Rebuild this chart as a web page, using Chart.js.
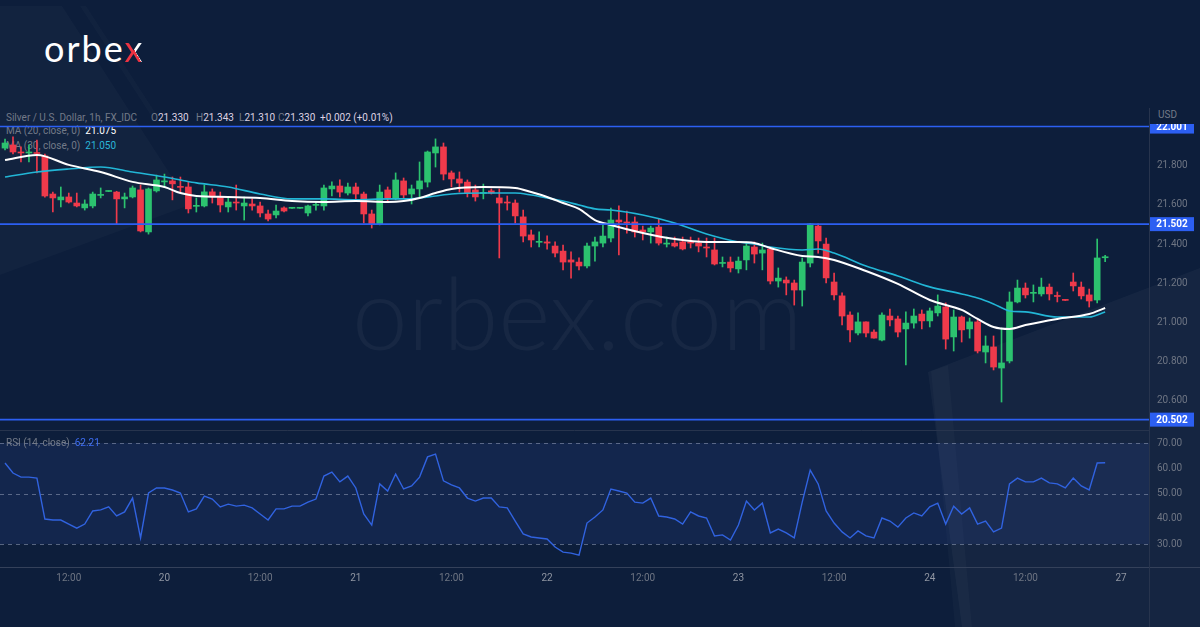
<!DOCTYPE html>
<html><head><meta charset="utf-8">
<script src="https://cdn.jsdelivr.net/npm/chart.js@4.4.1/dist/chart.umd.min.js"></script>
<style>
html,body{margin:0;padding:0;background:#0d1e3b;width:1200px;height:627px;overflow:hidden;font-family:Roboto,'Open Sans',sans-serif;}
.abs{position:absolute;white-space:pre;}
#bg{position:absolute;left:0;top:0;}
.g{color:#737a88;}
.v{color:#ddd2e2;}
canvas{position:absolute;left:0;}
</style></head><body>
<svg id="bg" width="1200" height="627">
  <polygon points="0,6 62,6 190,205 0,275" fill="rgba(255,255,255,0.025)"/>
  <polygon points="80,6 86,6 160,120 154,120" fill="rgba(255,255,255,0.02)"/>
  <polygon points="928,372 1200,268 1200,627 962,627" fill="rgba(255,255,255,0.035)"/>
  <polygon points="931,371 948,365 972,627 955,627" fill="rgba(255,255,255,0.025)"/>
</svg>
<div class="abs" style="left:352px;top:261px;font-family:Lato,sans-serif;font-weight:300;font-size:100px;line-height:100px;color:rgba(255,255,255,0.045);">orbex.com</div>
<div class="abs" style="left:44px;top:30px;font-family:Lato,sans-serif;font-size:36px;line-height:36px;letter-spacing:2px;color:#fff;">orbe<span style="background:linear-gradient(60deg,#ee3342 0 48%,#fff 48%);-webkit-background-clip:text;background-clip:text;color:transparent;">x</span></div>

<div class="abs g" style="left:6px;top:112px;font-size:10px;line-height:12px;">Silver / U.S. Dollar, 1h, FX_IDC</div>
<div class="abs" style="left:151px;top:112px;font-size:10px;line-height:12px;"><span class="g">O</span><span class="v">21.330</span></div>
<div class="abs" style="left:196px;top:112px;font-size:10px;line-height:12px;"><span class="g">H</span><span class="v">21.343</span></div>
<div class="abs" style="left:239px;top:112px;font-size:10px;line-height:12px;"><span class="g">L</span><span class="v">21.310</span></div>
<div class="abs" style="left:278px;top:112px;font-size:10px;line-height:12px;"><span class="g">C</span><span class="v">21.330</span></div>
<div class="abs v" style="left:320px;top:112px;font-size:10px;line-height:12px;">+0.002 (+0.01%)</div>
<div class="abs" style="left:6px;top:125px;font-size:10px;line-height:12px;"><span class="g">MA (20, close, 0)</span>  <span style="color:#ffffff;">21.075</span></div>
<div class="abs" style="left:6px;top:140px;font-size:10px;line-height:12px;"><span class="g">MA (30, close, 0)</span>  <span style="color:#2bb6d8;">21.050</span></div>
<div class="abs g" style="left:1158px;top:109px;font-size:10px;line-height:12px;">USD</div>

<canvas id="price" width="1200" height="350" style="top:94px"></canvas>
<canvas id="rsi" width="1200" height="211" style="top:416px"></canvas>
<div class="abs" style="left:6px;top:437px;font-size:10px;line-height:12px;"><span class="g">RSI (14, close)</span>  <span style="color:#3d6df2;">62.21</span></div>

<script>
// ---------- data (hourly bars, Silver / USD) ----------
const openP  = [21.891,21.907,21.871,21.866,21.868,21.851,21.656,21.626,21.641,21.610,21.585,21.595,21.649,21.669,21.666,21.631,21.641,21.677,21.462,21.672,
21.718,21.723,21.694,21.692,21.593,21.595,21.667,21.641,21.590,21.615,21.595,21.605,21.595,21.554,21.549,21.585,21.583,21.583,21.559,21.598,
21.595,21.682,21.697,21.661,21.692,21.656,21.554,21.503,21.677,21.636,21.723,21.656,21.682,21.717,21.866,21.897,21.764,21.733,21.717,21.677,
21.659,21.672,21.636,21.615,21.610,21.539,21.447,21.409,21.411,21.390,21.364,21.319,21.308,21.288,21.390,21.405,21.431,21.523,21.513,21.513,
21.472,21.462,21.487,21.400,21.405,21.411,21.411,21.405,21.385,21.370,21.301,21.308,21.273,21.319,21.385,21.354,21.375,21.211,21.216,21.201,
21.165,21.303,21.492,21.400,21.206,21.135,21.037,20.945,21.002,20.950,20.909,21.032,21.017,20.966,20.996,21.042,21.007,21.048,21.078,20.925,
21.027,20.966,21.002,20.848,20.874,20.766,20.802,21.104,21.175,21.148,21.145,21.180,21.136,21.115,21.206,21.180,21.140,21.114,21.330];
const highP  = [21.937,21.948,21.897,21.907,21.932,21.860,21.666,21.692,21.661,21.661,21.626,21.666,21.687,21.672,21.670,21.661,21.697,21.702,21.687,21.753,
21.758,21.743,21.743,21.718,21.636,21.702,21.682,21.666,21.641,21.702,21.641,21.631,21.615,21.574,21.600,21.590,21.586,21.586,21.600,21.615,
21.702,21.718,21.728,21.712,21.712,21.666,21.574,21.702,21.692,21.764,21.738,21.702,21.820,21.876,21.938,21.917,21.774,21.769,21.728,21.702,
21.707,21.682,21.682,21.646,21.626,21.574,21.472,21.462,21.442,21.411,21.395,21.360,21.329,21.405,21.436,21.508,21.584,21.595,21.569,21.539,
21.492,21.492,21.528,21.436,21.436,21.436,21.436,21.431,21.431,21.431,21.334,21.334,21.334,21.411,21.411,21.405,21.385,21.278,21.232,21.216,
21.329,21.505,21.503,21.431,21.252,21.150,21.053,21.048,21.002,20.961,21.048,21.068,21.032,21.053,21.068,21.063,21.073,21.140,21.099,21.063,
21.032,21.022,21.012,20.930,20.930,20.971,21.155,21.216,21.201,21.191,21.226,21.196,21.155,21.116,21.252,21.206,21.170,21.426,21.343];
const lowP   = [21.881,21.861,21.820,21.820,21.764,21.640,21.564,21.590,21.610,21.590,21.574,21.585,21.636,21.668,21.503,21.585,21.636,21.462,21.451,21.666,
21.692,21.626,21.666,21.559,21.564,21.590,21.610,21.564,21.564,21.574,21.523,21.574,21.539,21.518,21.534,21.564,21.582,21.582,21.544,21.574,
21.574,21.646,21.641,21.651,21.626,21.508,21.482,21.498,21.615,21.626,21.636,21.605,21.641,21.692,21.794,21.728,21.692,21.666,21.641,21.620,
21.631,21.656,21.329,21.574,21.508,21.411,21.385,21.385,21.374,21.334,21.268,21.226,21.268,21.278,21.313,21.385,21.411,21.344,21.456,21.436,
21.421,21.405,21.395,21.385,21.385,21.370,21.380,21.360,21.334,21.293,21.283,21.257,21.252,21.268,21.303,21.268,21.196,21.180,21.140,21.088,
21.083,21.283,21.354,21.201,21.114,20.986,20.899,20.935,20.925,20.919,20.904,20.981,20.925,20.782,20.970,20.966,20.976,21.032,20.863,20.853,
20.899,20.919,20.843,20.792,20.756,20.592,20.792,21.099,21.124,21.104,21.134,21.114,21.104,21.111,21.160,21.119,21.078,21.099,21.310];
const closeP = [21.917,21.871,21.866,21.871,21.863,21.646,21.636,21.641,21.615,21.595,21.605,21.656,21.653,21.671,21.631,21.641,21.687,21.467,21.682,21.728,
21.723,21.708,21.690,21.580,21.597,21.667,21.646,21.600,21.615,21.610,21.610,21.595,21.559,21.528,21.569,21.569,21.585,21.585,21.595,21.600,
21.687,21.697,21.666,21.692,21.656,21.554,21.503,21.666,21.636,21.728,21.651,21.682,21.723,21.871,21.897,21.758,21.733,21.712,21.661,21.641,
21.662,21.661,21.610,21.610,21.544,21.441,21.421,21.411,21.405,21.354,21.308,21.308,21.288,21.390,21.411,21.441,21.523,21.513,21.508,21.462,
21.462,21.482,21.405,21.405,21.390,21.375,21.405,21.390,21.380,21.298,21.304,21.278,21.313,21.390,21.349,21.370,21.211,21.226,21.201,21.165,
21.308,21.503,21.416,21.227,21.140,21.032,20.961,21.002,20.945,20.919,21.037,21.012,20.950,20.996,21.032,21.007,21.058,21.083,20.914,21.027,
20.961,21.002,20.853,20.879,20.771,20.792,21.104,21.175,21.140,21.152,21.180,21.145,21.132,21.112,21.186,21.135,21.109,21.329,21.330];

// moving averages, read at these bar indices
const maIdx = [0,4,8,12,16,20,22,24,28,32,36,40,44,48,50,52,54,56,60,64,66,68,70,72,74,76,80,84,88,92,94,96,100,102,104,108,112,116,120,122,124,126,128,132,136,138];
const ma20 = [21.830,21.856,21.805,21.769,21.718,21.692,21.661,21.646,21.641,21.636,21.620,21.615,21.620,21.615,21.620,21.636,21.661,21.682,21.692,21.687,
21.666,21.641,21.610,21.580,21.523,21.498,21.457,21.426,21.411,21.411,21.406,21.380,21.339,21.334,21.319,21.262,21.196,21.114,21.063,21.017,
20.976,20.966,20.986,21.017,21.042,21.073];
const ma30 = [21.743,21.769,21.784,21.794,21.769,21.743,21.728,21.713,21.692,21.656,21.631,21.631,21.626,21.631,21.631,21.636,21.646,21.656,21.661,21.661,
21.651,21.636,21.620,21.600,21.580,21.574,21.549,21.508,21.452,21.411,21.400,21.385,21.370,21.375,21.354,21.288,21.237,21.181,21.145,21.124,
21.094,21.058,21.053,21.027,21.027,21.053];

// RSI(14) per bar
const rsi = [62.1,58.1,56.5,56.5,56.1,39.9,39.5,39.5,37.9,36.3,37.9,43.1,43.5,44.7,41.1,42.7,48.2,32.4,50.2,52.2,
52.2,51.4,50.2,42.7,43.9,49.0,47.8,44.7,45.8,45.0,45.4,44.3,41.9,39.5,43.9,43.9,45.0,45.0,46.6,47.8,
56.9,58.5,54.6,56.9,52.2,41.9,37.5,53.8,51.0,57.7,51.8,53.0,56.5,64.5,65.6,55.0,53.4,52.2,48.2,47.0,
48.2,48.2,44.7,44.3,39.1,34.0,32.8,32.4,32.0,28.8,26.8,26.4,25.6,38.3,40.7,43.5,51.8,51.0,50.2,46.6,
46.2,48.2,41.1,40.7,39.9,37.9,42.7,41.1,40.3,33.2,33.6,31.6,37.5,47.0,43.5,46.2,34.4,35.9,34.4,32.4,
46.6,59.3,53.8,43.1,38.3,34.8,32.4,35.2,33.2,32.4,40.3,39.1,36.7,40.3,42.3,41.1,44.7,46.2,37.9,45.0,
41.9,44.3,37.9,39.1,34.8,36.3,53.8,56.1,54.6,54.6,56.1,54.2,53.8,52.2,56.1,53.0,51.4,62.1,62.2];

// horizontal levels drawn on the price pane
const levels = [22.001, 21.502, 20.502];
const levelLabels = ['22.001', '21.502', '20.502'];

// axis ticks
const timeTickIdx = [8,20,32,44,56,68,80,92,104,116,128,140];
const timeTickLabels = ['12:00','20','12:00','21','12:00','22','12:00','23','12:00','24','12:00','27'];
const priceTicks = [20.6,20.8,21.0,21.2,21.4,21.6,21.8];
const rsiTicks = [30,40,50,60,70];
const rsiGuides = [70,50,30];

// ---------- chart setup ----------
Chart.defaults.font.family = 'Roboto, sans-serif';
Chart.defaults.font.size = 10;
const GREEN = '#2cc26f', RED = '#ef3a4b';
const AX = '#6e7583';
const X_MIN = -0.63, X_MAX = 143.5;
const PRICE_TOP = 108, RSI_TOP = 430;

const barIdx = openP.map((_, i) => i);
const cols = barIdx.map(i => closeP[i] >= openP[i] ? GREEN : RED);

const levelsPlugin = {
  id: 'levels',
  afterDatasetsDraw(chart) {
    const {ctx, chartArea, scales: {y}} = chart;
    ctx.save();
    ctx.strokeStyle = '#2c5ff2';
    ctx.lineWidth = 1.6;
    levels.forEach(v => {
      const py = y.getPixelForValue(v);
      ctx.beginPath(); ctx.moveTo(chartArea.left, py); ctx.lineTo(chartArea.right, py); ctx.stroke();
    });
    ctx.restore();
  },
  afterDraw(chart) {
    const {ctx, chartArea, scales: {y}} = chart;
    ctx.save();
    ctx.strokeStyle = '#27344d'; ctx.lineWidth = 1;
    ctx.beginPath(); ctx.moveTo(chartArea.right + 0.5, chartArea.top); ctx.lineTo(chartArea.right + 0.5, chart.height); ctx.stroke();
    ctx.beginPath(); ctx.rect(chartArea.right + 1, chartArea.top + 16, 60, chart.height); ctx.clip();
    levels.forEach((v, i) => {
      const py = y.getPixelForValue(v);
      ctx.fillStyle = '#2c5ff2';
      ctx.fillRect(chartArea.right + 1, py - 7, 44, 14);
      ctx.fillStyle = '#ffffff';
      ctx.font = 'bold 10px Roboto, sans-serif';
      ctx.textAlign = 'center'; ctx.textBaseline = 'middle';
      ctx.fillText(levelLabels[i], chartArea.right + 23, py + 0.5);
    });
    ctx.restore();
  }
};

const priceCanvas = document.getElementById('price');
const priceChart = new Chart(priceCanvas, {
  type: 'bar',
  data: {
    datasets: [
      { type: 'line', label: 'MA20', data: maIdx.map((k, j) => ({x: k, y: ma20[j]})),
        borderColor: '#ffffff', borderWidth: 2, pointRadius: 0, cubicInterpolationMode: 'monotone', order: 0 },
      { type: 'line', label: 'MA30', data: maIdx.map((k, j) => ({x: k, y: ma30[j]})),
        borderColor: '#22b6d6', borderWidth: 1.6, pointRadius: 0, cubicInterpolationMode: 'monotone', order: 1 },
      { label: 'body', data: barIdx.map(i => ({x: i, y: [openP[i], closeP[i]]})),
        backgroundColor: cols, barThickness: 6, minBarLength: 1, grouped: false, borderWidth: 0, order: 2 },
      { label: 'wick', data: barIdx.map(i => ({x: i, y: [lowP[i], highP[i]]})),
        backgroundColor: cols, barThickness: 1, grouped: false, borderWidth: 0, order: 3 }
    ]
  },
  options: {
    responsive: false, animation: false, events: [], devicePixelRatio: 1,
    layout: { autoPadding: false, padding: 0 },
    plugins: { legend: { display: false }, tooltip: { enabled: false } },
    scales: {
      x: { type: 'linear', min: X_MIN, max: X_MAX, offset: false, display: false },
      y: { position: 'right', min: 20.449, max: 22.096,
        grid: { display: false, drawTicks: false }, border: { display: false },
        afterFit: s => { s.width = 51; },
        afterBuildTicks: s => { s.ticks = priceTicks.map(v => ({value: v})); },
        ticks: { color: AX, padding: 8, callback: v => Number(v).toFixed(3) } }
    }
  },
  plugins: [levelsPlugin]
});
priceCanvas.style.top = (PRICE_TOP - priceChart.chartArea.top) + 'px';

const rsiPlugin = {
  id: 'rsiBand',
  beforeDatasetsDraw(chart) {
    const {ctx, chartArea, scales: {y}} = chart;
    ctx.save();
    const t = y.getPixelForValue(70), b = y.getPixelForValue(30);
    ctx.fillStyle = 'rgba(60,90,200,0.13)';
    ctx.fillRect(chartArea.left, t, chartArea.right - chartArea.left, b - t);
    ctx.strokeStyle = 'rgba(150,160,185,0.55)'; ctx.lineWidth = 1; ctx.setLineDash([4, 4]);
    rsiGuides.forEach(v => {
      const py = Math.round(y.getPixelForValue(v)) + 0.5;
      ctx.beginPath(); ctx.moveTo(chartArea.left, py); ctx.lineTo(chartArea.right, py); ctx.stroke();
    });
    ctx.restore();
  },
  afterDraw(chart) {
    const {ctx, chartArea} = chart;
    ctx.save();
    ctx.strokeStyle = '#27344d'; ctx.lineWidth = 1;
    ctx.beginPath(); ctx.moveTo(0, chartArea.top + 0.5); ctx.lineTo(chartArea.right, chartArea.top + 0.5); ctx.stroke();
    ctx.strokeStyle = '#34415a';
    ctx.beginPath(); ctx.moveTo(0, chartArea.bottom + 0.5); ctx.lineTo(chart.width, chartArea.bottom + 0.5); ctx.stroke();
    ctx.strokeStyle = '#27344d';
    ctx.beginPath(); ctx.moveTo(chartArea.right + 0.5, chartArea.top); ctx.lineTo(chartArea.right + 0.5, chart.height); ctx.stroke();
    ctx.restore();
  }
};

const rsiCanvas = document.getElementById('rsi');
const rsiChart = new Chart(rsiCanvas, {
  type: 'line',
  data: {
    datasets: [{ label: 'RSI', data: barIdx.map(i => ({x: i, y: rsi[i]})),
      borderColor: '#3163e0', borderWidth: 1.4, pointRadius: 0, tension: 0 }]
  },
  options: {
    responsive: false, animation: false, events: [], devicePixelRatio: 1,
    layout: { autoPadding: false, padding: 0 },
    plugins: { legend: { display: false }, tooltip: { enabled: false } },
    scales: {
      x: { type: 'linear', min: X_MIN, max: X_MAX, offset: false,
        grid: { display: false, drawTicks: false }, border: { display: false },
        afterFit: s => { s.height = 60; },
        afterBuildTicks: s => { s.ticks = timeTickIdx.map(v => ({value: v})); },
        ticks: { autoSkip: false, maxRotation: 0, padding: 5,
          color: c => (timeTickLabels[timeTickIdx.indexOf(c.tick.value)] || '').includes(':') ? '#6e7583' : '#9096a2',
          callback: v => timeTickLabels[timeTickIdx.indexOf(v)] } },
      y: { position: 'right', min: 20.9, max: 75.15,
        grid: { display: false, drawTicks: false }, border: { display: false },
        afterFit: s => { s.width = 51; },
        afterBuildTicks: s => { s.ticks = rsiTicks.map(v => ({value: v})); },
        ticks: { color: AX, padding: 8, callback: v => Number(v).toFixed(2) } }
    }
  },
  plugins: [rsiPlugin]
});
rsiCanvas.style.top = (RSI_TOP - rsiChart.chartArea.top) + 'px';
</script>
</body></html>
